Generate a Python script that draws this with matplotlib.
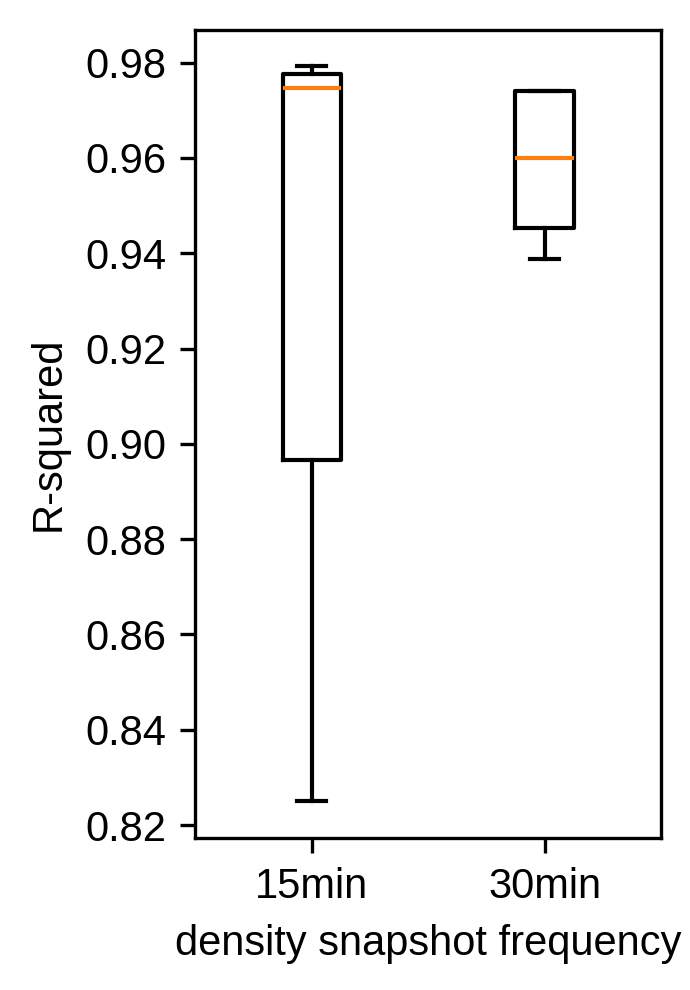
import matplotlib
matplotlib.use('Agg')
import matplotlib.pyplot as plt

plt.rcParams['font.family'] = ['Liberation Sans', 'DejaVu Sans']
plt.rcParams['font.size'] = 10

labels = ['15min', '30min']
whislo = [0.8250, 0.9388]
q1 = [0.8967, 0.9453]
med = [0.9747, 0.9600]
q3 = [0.9777, 0.9741]
whishi = [0.9792, 0.9741]

stats = []
for i in range(len(labels)):
    stats.append({'label': labels[i], 'whislo': whislo[i], 'q1': q1[i],
                  'med': med[i], 'q3': q3[i], 'whishi': whishi[i], 'fliers': []})

fig = plt.figure(figsize=(2.3, 3.3), dpi=300)
ax = fig.add_axes([0.283, 0.1535, 0.675, 0.8165])
ax.bxp(stats, widths=0.25)
ax.set_xlim(0.5, 2.5)
ax.set_ylabel('R-squared')
ax.set_xlabel('density snapshot frequency')

plt.savefig('out.png', dpi=300)
